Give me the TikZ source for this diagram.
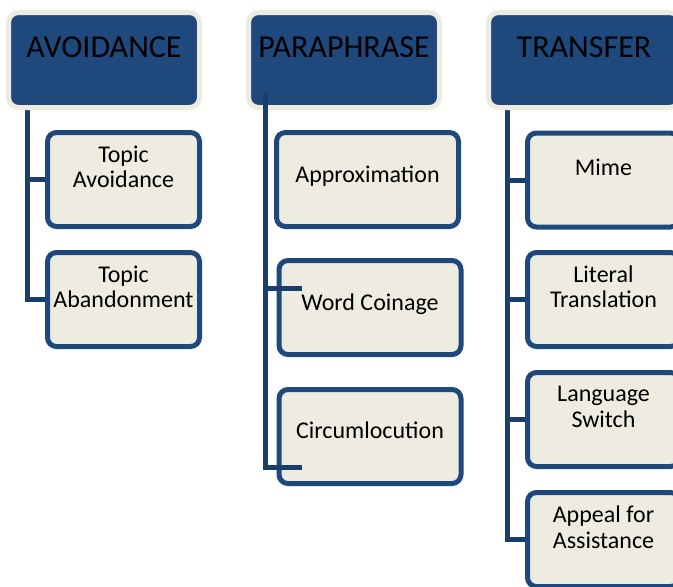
\documentclass[tikz,border=0pt]{standalone}
\usepackage{fontspec}
\setmainfont{Carlito}
\usetikzlibrary{backgrounds}
\definecolor{titleblue}{RGB}{31,73,125}
\definecolor{creamfill}{RGB}{238,236,225}
\definecolor{boxborder}{RGB}{31,73,125}
\definecolor{connblue}{RGB}{26,62,108}
\tikzset{
  titlebox/.style={rectangle, rounded corners=10pt, fill=titleblue, draw=creamfill, line width=5pt, minimum width=191pt, minimum height=95pt, inner sep=0pt},
  childbox/.style={rectangle, rounded corners=9pt, fill=creamfill, draw=boxborder, line width=5pt, minimum width=152pt, minimum height=94pt, inner sep=0pt},
  widebox/.style={childbox, minimum width=182pt},
  titletext/.style={font=\fontsize{32}{36}\selectfont, anchor=base, inner sep=0pt, text=black},
  childtext/.style={font=\fontsize{24}{25.5}\selectfont, align=center, inner sep=0pt, text=black},
  conn/.style={draw=connblue, line width=5pt}
}
\begin{document}
\begin{tikzpicture}[x=1pt,y=-1pt]
\useasboundingbox (0,0) rectangle (673,587);
\clip (0,0) rectangle (673,587);

% trunk coordinates
\coordinate (avtop) at (27.5,105);
\coordinate (trtop) at (507,105);
\coordinate (patop) at (265,93);
\coordinate (paw1) at (302,288);
\coordinate (paw2) at (302,467);

% title boxes
\node[titlebox] (av) at (104,60) {};
\node[titlebox] (pa) at (344,60) {};
\node[titlebox] (tr) at (584,60) {};

% child boxes
\node[childbox] (av1) at (123.5,179.5) {};
\node[childbox] (av2) at (123.5,299.5) {};
\node[widebox] (pa1) at (367.5,179.5) {};
\node[widebox] (pa2) at (370,307.5) {};
\node[widebox] (pa3) at (370,436.5) {};
\node[childbox] (tr1) at (603.5,180) {};
\node[childbox] (tr2) at (603.5,299.5) {};
\node[childbox] (tr3) at (603.5,419.5) {};
\node[childbox] (tr4) at (603.5,539.5) {};

% connectors behind boxes
\begin{scope}[on background layer]
\draw[conn] (avtop) |- (av1.west);
\draw[conn] (avtop) |- (av2.west);
\draw[conn] (trtop) |- (tr1.west);
\draw[conn] (trtop) |- (tr2.west);
\draw[conn] (trtop) |- (tr3.west);
\draw[conn] (trtop) |- (tr4.west);
\end{scope}

% paraphrase connector on top
\draw[conn] (patop) |- (paw1);
\draw[conn] (patop) |- (paw2);

% texts
\node[titletext] (avt) at (104,57) {AVOIDANCE};
\node[titletext] (pat) at (344,57) {PARAPHRASE};
\node[titletext] (trt) at (584,57) {TRANSFER};

\node[childtext] (av1t) at (123.5,167) {Topic\\Avoidance};
\node[childtext] (av2t) at (123.5,287) {Topic\\Abandonment};

\node[childtext] (pa1t) at (367.5,176) {Approximation};
\node[childtext] (pa2t) at (370,304) {Word Coinage};
\node[childtext] (pa3t) at (370,430) {Circumlocution};

\node[childtext] (tr1t) at (603.5,167) {Mime};
\node[childtext] (tr2t) at (603.5,287) {Literal\\Translation};
\node[childtext] (tr3t) at (603.5,407) {Language\\Switch};
\node[childtext] (tr4t) at (603.5,527) {Appeal for\\Assistance};
\end{tikzpicture}
\end{document}
